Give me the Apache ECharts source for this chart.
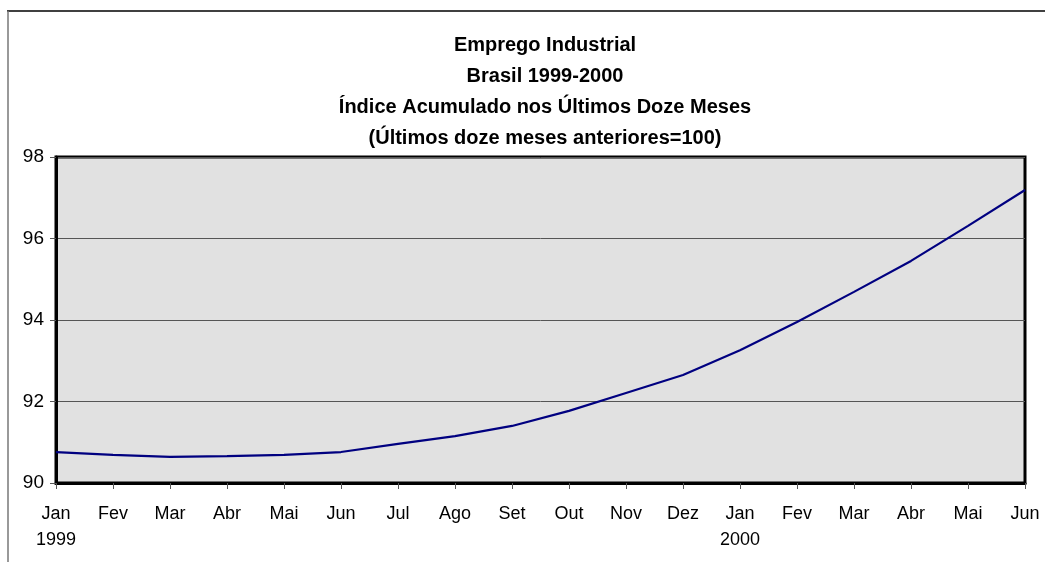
<!DOCTYPE html>
<html>
<head>
<meta charset="utf-8">
<script src="https://cdn.jsdelivr.net/npm/echarts@6/dist/echarts.min.js"></script>
<style>
  html, body { margin: 0; padding: 0; background: #fff; }
  #chart { width: 1045px; height: 562px; }
</style>
</head>
<body>
<div id="chart"></div>
<script>
const months = ['Jan', 'Fev', 'Mar', 'Abr', 'Mai', 'Jun', 'Jul', 'Ago', 'Set', 'Out', 'Nov', 'Dez',
  'Jan', 'Fev', 'Mar', 'Abr', 'Mai', 'Jun'];
const years = ['1999', '', '', '', '', '', '', '', '', '', '', '', '2000', '', '', '', '', ''];
const indice = [90.76, 90.69, 90.64, 90.66, 90.69, 90.76, 90.96, 91.15, 91.40, 91.77, 92.21, 92.65,
  93.26, 93.95, 94.69, 95.45, 96.31, 97.19];
const titleLines = ['Emprego Industrial', 'Brasil 1999-2000',
  'Índice Acumulado nos Últimos Doze Meses', '(Últimos doze meses anteriores=100)'];

const font = 'Arial, "Liberation Sans", sans-serif';
const chart = echarts.init(document.getElementById('chart'));

chart.setOption({
  animation: false,
  title: {
    text: titleLines.join('\n'),
    left: 540,
    top: 25,
    textAlign: 'center',
    textStyle: { fontFamily: font, fontSize: 20, fontWeight: 'bold', color: '#000', lineHeight: 31 }
  },
  graphic: [
    { type: 'line', shape: { x1: 7, y1: 11, x2: 1045, y2: 11 }, style: { stroke: '#000', lineWidth: 1.5 } },
    { type: 'line', shape: { x1: 8, y1: 11, x2: 8, y2: 562 }, style: { stroke: '#777', lineWidth: 1.5 } }
  ],
  grid: {
    left: 56, right: 20, top: 157, bottom: 79,
    show: true,
    backgroundColor: '#e1e1e1',
    borderColor: '#000',
    borderWidth: 3
  },
  xAxis: {
    type: 'category',
    data: months,
    boundaryGap: false,
    axisLine: { lineStyle: { color: '#000', width: 3 } },
    axisTick: { show: true, inside: false, length: 6, interval: 0, lineStyle: { color: '#555', width: 1 } },
    axisLabel: {
      interval: 0,
      margin: 18,
      fontFamily: font,
      fontSize: 18,
      color: '#000',
      lineHeight: 26,
      formatter: (v, i) => years[i] ? v + '\n' + years[i] : v
    },
    splitLine: { show: false }
  },
  yAxis: {
    type: 'value',
    min: 90,
    max: 98,
    interval: 2,
    axisLine: { show: true, lineStyle: { color: '#000', width: 3 } },
    axisTick: { show: true, length: 6, lineStyle: { color: '#555', width: 1 } },
    axisLabel: { fontFamily: font, fontSize: 19, color: '#000', margin: 12 },
    splitLine: { show: true, lineStyle: { color: '#555', width: 1 } }
  },
  series: [{
    type: 'line',
    data: indice,
    symbol: 'none',
    lineStyle: { color: '#000080', width: 2.2 }
  }]
});
</script>
</body>
</html>
